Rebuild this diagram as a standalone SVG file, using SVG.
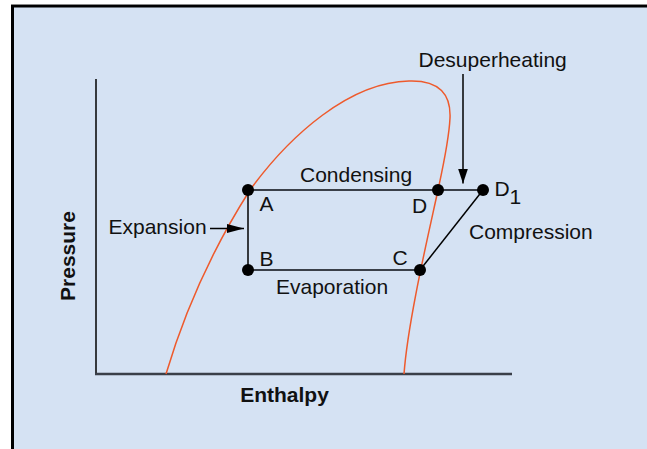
<svg xmlns="http://www.w3.org/2000/svg" width="647" height="449" viewBox="0 0 647 449">
<defs>
<style>
.t{font-family:"Liberation Sans",Arial,sans-serif;font-size:21px;fill:#111}
.b{font-weight:bold}
.dot{fill:#000}
</style>
<marker id="ah" markerWidth="17" markerHeight="9" refX="17" refY="4.5" orient="auto" markerUnits="userSpaceOnUse">
<path d="M0,0 L17,4.5 L0,9 Z" fill="#000"/>
</marker>
<marker id="av" markerWidth="15" markerHeight="10" refX="15" refY="5" orient="auto" markerUnits="userSpaceOnUse">
<path d="M0,0 L15,5 L0,10 Z" fill="#000"/>
</marker>
</defs>
<rect x="0" y="0" width="647" height="449" fill="#fff"/>
<rect x="12.5" y="6" width="700" height="500" fill="#D5E2F3" stroke="#000" stroke-width="3"/>
<line x1="11" y1="4.5" x2="647" y2="4.5" stroke="#888" stroke-width="1"/>
<g id="axes">
<line x1="96" y1="79" x2="96" y2="375" stroke="#000" stroke-width="1.5"/>
<line x1="95" y1="374" x2="512" y2="374" stroke="#3a3f48" stroke-width="2.5"/>
<text class="t b" x="284.5" y="401.5" text-anchor="middle">Enthalpy</text>
<text class="t b" transform="translate(74.5,256) rotate(-90)" text-anchor="middle">Pressure</text>
</g>
<g id="dome">
<path d="M166,374 C185,310 215,245 250,190 C290,135 350,82 409,81 C440,80 451,95 450,118 C449,140 443.4,165 438,190 C429,232 408,320 404,374" fill="none" stroke="#EE5A2C" stroke-width="1.5"/>
</g>
<g id="connectors">
<line x1="248" y1="190" x2="483" y2="190" stroke="#3a3f48" stroke-width="2.2"/>
<line x1="248" y1="270" x2="420" y2="270" stroke="#3a3f48" stroke-width="2.2"/>
<line x1="248" y1="190" x2="248" y2="270" stroke="#000" stroke-width="1.5"/>
<line x1="483" y1="190" x2="420" y2="270" stroke="#000" stroke-width="1.5"/>
<line x1="210" y1="228.5" x2="244" y2="228.5" stroke="#000" stroke-width="1.5" marker-end="url(#ah)"/>
<line x1="463" y1="74" x2="463" y2="183.5" stroke="#000" stroke-width="1.5" marker-end="url(#av)"/>
</g>
<g id="A"><circle class="dot" cx="248" cy="190" r="6"/><text class="t" x="259.5" y="211">A</text></g>
<g id="B"><circle class="dot" cx="248" cy="270" r="6"/><text class="t" x="259.5" y="265.5">B</text></g>
<g id="C"><circle class="dot" cx="420" cy="270" r="6"/><text class="t" x="392.5" y="265">C</text></g>
<g id="D"><circle class="dot" cx="438" cy="190" r="6"/><text class="t" x="412" y="213">D</text></g>
<g id="D1"><circle class="dot" cx="483" cy="190" r="6"/><text class="t" x="494.5" y="195.5">D<tspan x="509.5" y="203.5">1</tspan></text></g>
<g id="labels">
<text class="t" x="300" y="182">Condensing</text>
<text class="t" x="276" y="293.5">Evaporation</text>
<text class="t" x="108.5" y="233.5">Expansion</text>
<text class="t" x="469" y="238.5">Compression</text>
<text class="t" x="418.5" y="66.5">Desuperheating</text>
</g>
</svg>
